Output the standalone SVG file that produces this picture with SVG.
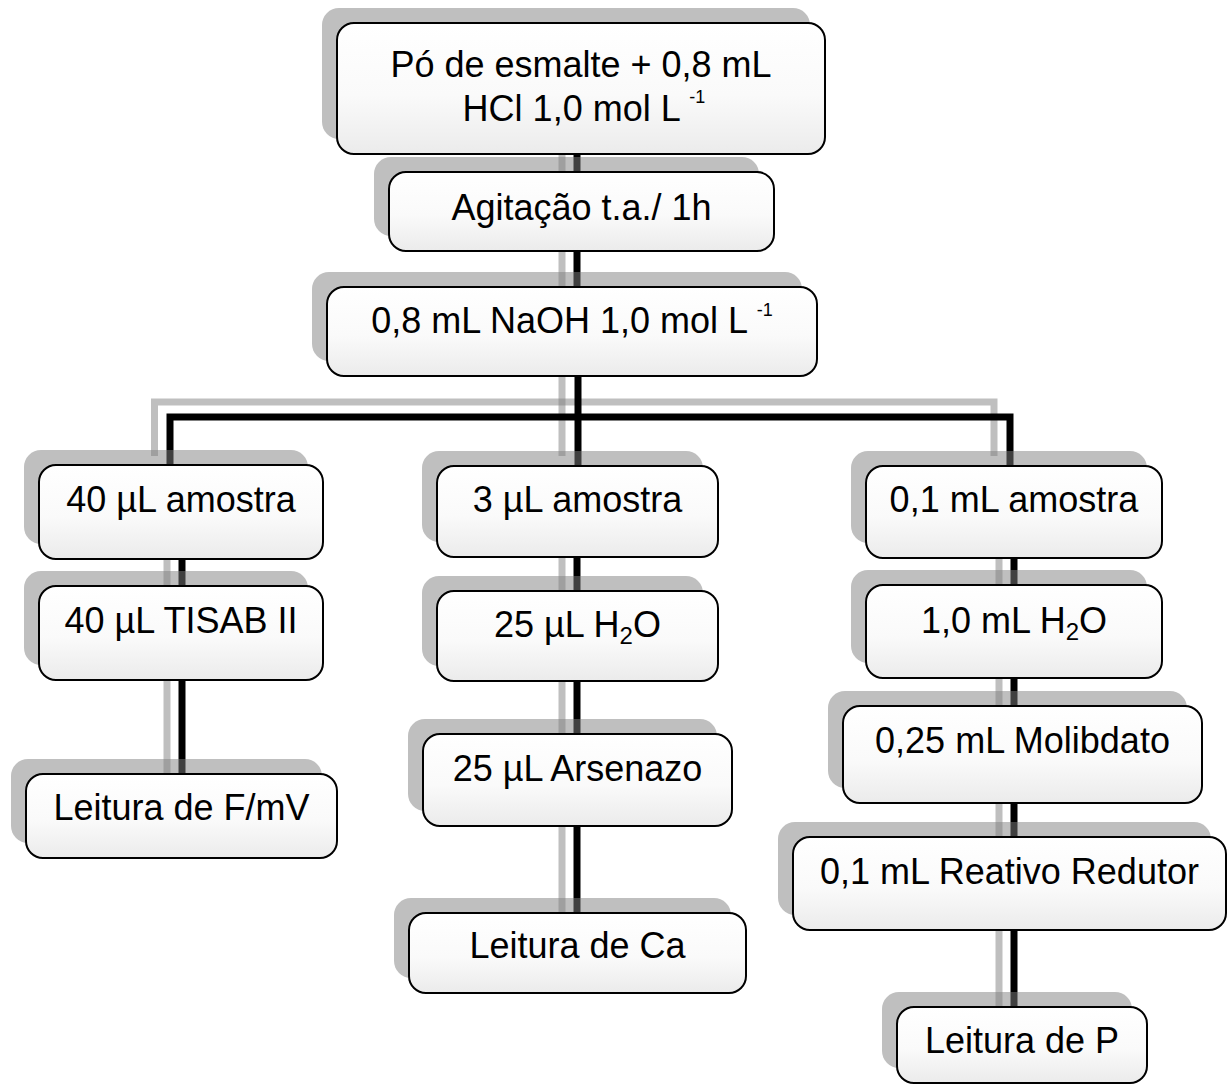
<svg xmlns="http://www.w3.org/2000/svg" width="1232" height="1084" viewBox="0 0 1232 1084">
<defs>
<linearGradient id="boxfill" x1="0" y1="0" x2="0" y2="1">
<stop offset="0" stop-color="#ffffff"/>
<stop offset="0.55" stop-color="#fafafa"/>
<stop offset="1" stop-color="#ebebeb"/>
</linearGradient>
<style>
.sh{fill:#808080;fill-opacity:0.5}
.box{fill:url(#boxfill);stroke:#000;stroke-width:2}
.lbl{font-family:"Liberation Sans",Arial,sans-serif;font-size:36px;fill:#000;text-anchor:middle}
.sup{font-size:18px}
.sub{font-size:24px}
.cg{stroke:#808080;stroke-opacity:0.5;stroke-width:7;fill:none}
.ck{stroke:#000;stroke-width:7;fill:none}
</style>
</defs>
<rect width="1232" height="1084" fill="#fff"/>
<g id="connectors">
<line class="cg" x1="562" y1="140" x2="562" y2="172"/>
<line class="cg" x1="562" y1="240" x2="562" y2="287"/>
<line class="cg" x1="562" y1="360" x2="562" y2="456"/>
<polyline class="cg" points="154.5,456 154.5,402 994,402 994,456"/>
<line class="cg" x1="167" y1="545" x2="167" y2="586"/>
<line class="cg" x1="167" y1="665" x2="167" y2="774"/>
<line class="cg" x1="562" y1="545" x2="562" y2="591"/>
<line class="cg" x1="562" y1="665" x2="562" y2="734"/>
<line class="cg" x1="562" y1="810" x2="562" y2="913"/>
<line class="cg" x1="999" y1="545" x2="999" y2="585"/>
<line class="cg" x1="999" y1="665" x2="999" y2="706"/>
<line class="cg" x1="999" y1="790" x2="999" y2="837"/>
<line class="cg" x1="999" y1="915" x2="999" y2="1007"/>
<line class="ck" x1="577" y1="150" x2="577" y2="175"/>
<line class="ck" x1="577" y1="248" x2="577" y2="290"/>
<line class="ck" x1="578" y1="372" x2="578" y2="467"/>
<polyline class="ck" points="170,467 170,417 1010,417 1010,467"/>
<line class="ck" x1="182" y1="555" x2="182" y2="588"/>
<line class="ck" x1="182" y1="676" x2="182" y2="776"/>
<line class="ck" x1="577" y1="553" x2="577" y2="593"/>
<line class="ck" x1="577" y1="677" x2="577" y2="736"/>
<line class="ck" x1="577" y1="822" x2="577" y2="915"/>
<line class="ck" x1="1014" y1="554" x2="1014" y2="587"/>
<line class="ck" x1="1014" y1="674" x2="1014" y2="708"/>
<line class="ck" x1="1014" y1="799" x2="1014" y2="839"/>
<line class="ck" x1="1014" y1="926" x2="1014" y2="1009"/>
</g>
<g id="n1">
<rect class="sh" x="322" y="8" width="488" height="131" rx="17"/>
<rect class="box" x="337" y="23" width="488" height="131" rx="17"/>
<text class="lbl" x="581" y="77">Pó de esmalte + 0,8 mL</text>
<text class="lbl" x="584" y="121">HCl 1,0 mol L <tspan class="sup" dy="-18">-1</tspan></text>
</g>
<g id="n2">
<rect class="sh" x="374" y="157" width="385" height="79" rx="17"/>
<rect class="box" x="389" y="172" width="385" height="79" rx="17"/>
<text class="lbl" x="581.5" y="220">Agitação t.a./ 1h</text>
</g>
<g id="n3">
<rect class="sh" x="312" y="272" width="490" height="89" rx="17"/>
<rect class="box" x="327" y="287" width="490" height="89" rx="17"/>
<text class="lbl" x="572" y="333">0,8 mL NaOH 1,0 mol L <tspan class="sup" dy="-17">-1</tspan></text>
</g>
<g id="n4">
<rect class="sh" x="24" y="450" width="284" height="94" rx="17"/>
<rect class="box" x="39" y="465" width="284" height="94" rx="17"/>
<text class="lbl" x="181" y="512">40 µL amostra</text>
</g>
<g id="n5">
<rect class="sh" x="24" y="571" width="284" height="94" rx="17"/>
<rect class="box" x="39" y="586" width="284" height="94" rx="17"/>
<text class="lbl" x="181" y="633">40 µL TISAB II</text>
</g>
<g id="n6">
<rect class="sh" x="11" y="759" width="311" height="84" rx="17"/>
<rect class="box" x="26" y="774" width="311" height="84" rx="17"/>
<text class="lbl" x="181.5" y="820">Leitura de F/mV</text>
</g>
<g id="n7">
<rect class="sh" x="422" y="451" width="281" height="91" rx="17"/>
<rect class="box" x="437" y="466" width="281" height="91" rx="17"/>
<text class="lbl" x="577.5" y="512">3 µL amostra</text>
</g>
<g id="n8">
<rect class="sh" x="422" y="576" width="281" height="90" rx="17"/>
<rect class="box" x="437" y="591" width="281" height="90" rx="17"/>
<text class="lbl" x="577.5" y="637">25 µL H<tspan class="sub" dy="7">2</tspan><tspan dy="-7">O</tspan></text>
</g>
<g id="n9">
<rect class="sh" x="408" y="719" width="309" height="92" rx="17"/>
<rect class="box" x="423" y="734" width="309" height="92" rx="17"/>
<text class="lbl" x="577.5" y="781">25 µL Arsenazo</text>
</g>
<g id="n10">
<rect class="sh" x="394" y="898" width="337" height="80" rx="17"/>
<rect class="box" x="409" y="913" width="337" height="80" rx="17"/>
<text class="lbl" x="577.5" y="958">Leitura de Ca</text>
</g>
<g id="n11">
<rect class="sh" x="851" y="451" width="296" height="92" rx="17"/>
<rect class="box" x="866" y="466" width="296" height="92" rx="17"/>
<text class="lbl" x="1014" y="512">0,1 mL amostra</text>
</g>
<g id="n12">
<rect class="sh" x="851" y="570" width="296" height="93" rx="17"/>
<rect class="box" x="866" y="585" width="296" height="93" rx="17"/>
<text class="lbl" x="1014" y="633">1,0 mL H<tspan class="sub" dy="7">2</tspan><tspan dy="-7">O</tspan></text>
</g>
<g id="n13">
<rect class="sh" x="828" y="691" width="359" height="97" rx="17"/>
<rect class="box" x="843" y="706" width="359" height="97" rx="17"/>
<text class="lbl" x="1022.5" y="753">0,25 mL Molibdato</text>
</g>
<g id="n14">
<rect class="sh" x="778" y="822" width="433" height="93" rx="17"/>
<rect class="box" x="793" y="837" width="433" height="93" rx="17"/>
<text class="lbl" x="1009.5" y="884">0,1 mL Reativo Redutor</text>
</g>
<g id="n15">
<rect class="sh" x="882" y="992" width="250" height="76" rx="17"/>
<rect class="box" x="897" y="1007" width="250" height="76" rx="17"/>
<text class="lbl" x="1022" y="1053">Leitura de P</text>
</g>
</svg>
